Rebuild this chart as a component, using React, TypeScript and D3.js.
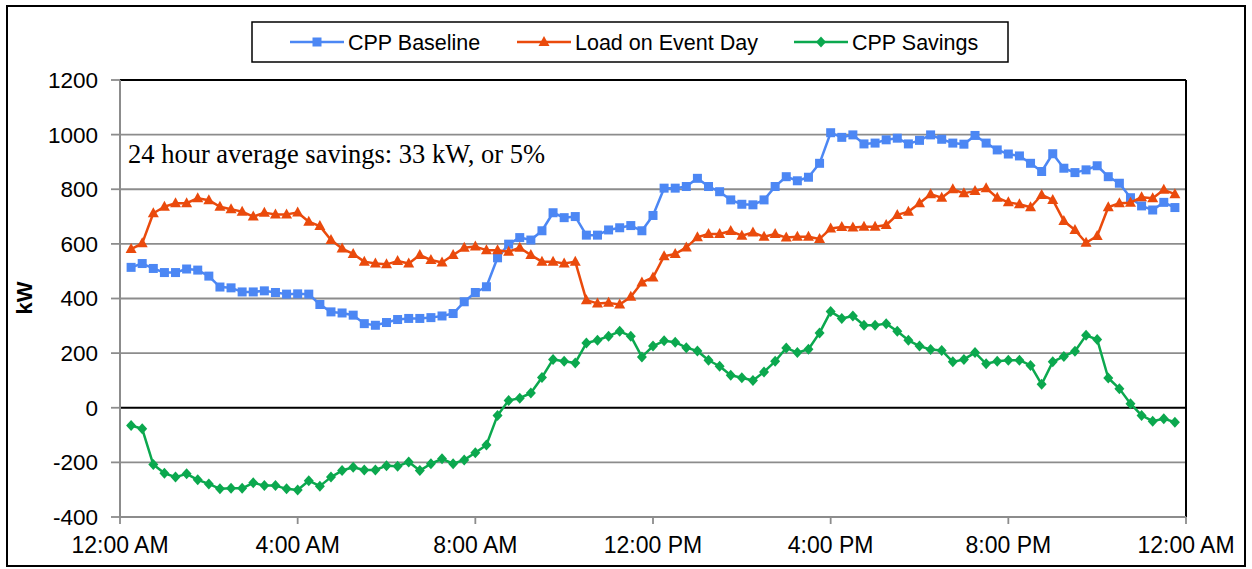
import React from "react";
import * as d3 from "d3";

const xTickLabels = ["12:00 AM", "4:00 AM", "8:00 AM", "12:00 PM", "4:00 PM", "8:00 PM", "12:00 AM"];
const yTicks = [-400, -200, 0, 200, 400, 600, 800, 1000, 1200];
const seriesNames = ["CPP Baseline", "Load on Event Day", "CPP Savings"];

// 15-minute intervals from 0:15 to 23:45
const baseline = [
  514, 528, 510, 495, 495, 508, 504, 482, 442, 439, 424, 424, 428, 422, 416, 417,
  416, 378, 351, 347, 339, 308, 302, 312, 323, 327, 327, 330, 336, 345, 388, 422,
  443, 549, 599, 623, 614, 648, 714, 696, 700, 632, 632, 651, 659, 667, 648, 704,
  804, 804, 810, 840, 810, 791, 761, 745, 743, 761, 810, 846, 831, 844, 895, 1007,
  990, 999, 966, 969, 981, 987, 966, 979, 999, 983, 969, 965, 997, 969, 944, 929,
  922, 895, 865, 930, 877, 861, 871, 886, 846, 822, 769, 739, 724, 752, 733,
];
const eventLoad = [
  581, 602, 712, 736, 749, 749, 767, 760, 736, 727, 718, 700, 714, 708, 708, 715,
  681, 665, 614, 583, 563, 535, 528, 525, 537, 528, 559, 541, 532, 559, 586, 590,
  577, 577, 571, 586, 559, 535, 535, 528, 535, 394, 382, 384, 378, 406, 459, 477,
  555, 563, 587, 624, 636, 636, 647, 630, 642, 626, 636, 623, 626, 626, 618, 656,
  662, 660, 663, 663, 669, 706, 718, 749, 782, 769, 800, 785, 794, 804, 769, 752,
  745, 734, 779, 761, 684, 651, 604, 629, 734, 749, 751, 771, 767, 798, 782,
];
const savings = [
  -65, -77, -208, -240, -254, -242, -264, -279, -297, -295, -295, -275, -285, -285, -297, -301,
  -267, -287, -254, -230, -218, -228, -228, -212, -214, -199, -230, -205, -187, -205, -191, -165,
  -136, -28, 27, 35, 54, 111, 177, 170, 164, 237, 247, 262, 280, 262, 186, 226,
  245, 240, 220, 208, 174, 152, 119, 110, 100, 131, 170, 219, 202, 214, 274, 352,
  327, 336, 302, 302, 308, 280, 247, 226, 213, 210, 168, 177, 202, 161, 170, 174,
  174, 155, 86, 168, 188, 207, 265, 250, 109, 70, 15, -28, -49, -40, -53,
];

const BLUE = "#4C87F4";
const RED = "#EA4A0C";
const GREEN = "#0BA84E";

const W = 1252;
const H = 569;
const left = 120;
const right = 1186;
const top = 80;
const bottom = 517;

function Marker({ kind, x, y, color }: { kind: string; x: number; y: number; color: string }) {
  if (kind === "square") {
    return <rect x={x - 4.5} y={y - 4.5} width={9} height={9} fill={color} />;
  }
  if (kind === "triangle") {
    const p = `${x},${y - 6} ${x + 5.5},${y + 4} ${x - 5.5},${y + 4}`;
    return <polygon points={p} fill={color} />;
  }
  const p = `${x},${y - 5.5} ${x + 5},${y} ${x},${y + 5.5} ${x - 5},${y}`;
  return <polygon points={p} fill={color} />;
}

export default function App() {
  const x = d3.scaleLinear().domain([0, 24]).range([left, right]);
  const y = d3.scaleLinear().domain([-400, 1200]).range([bottom, top]);
  const hours = baseline.map((_, i) => (i + 1) * 0.25);

  const series = [
    { name: seriesNames[0], data: baseline, color: BLUE, kind: "square" },
    { name: seriesNames[1], data: eventLoad, color: RED, kind: "triangle" },
    { name: seriesNames[2], data: savings, color: GREEN, kind: "diamond" },
  ];

  const line = (data: number[]) =>
    d3
      .line<number>()
      .x((_, i) => x(hours[i]))
      .y((d) => y(d))(data) as string;

  const legendItems = [
    { lx: 290, tx: 348 },
    { lx: 517, tx: 575 },
    { lx: 794, tx: 852 },
  ];

  const font = "'Liberation Sans', Arial, sans-serif";

  return (
    <svg
      width={W}
      height={H}
      style={{ position: "absolute", left: 0, top: 0, background: "#fff" }}
    >
      <rect x={0} y={0} width={W} height={H} fill="#fff" />
      {/* outer frame */}
      <rect x={7} y={6} width={1238} height={560} fill="none" stroke="#000" strokeWidth={2} />

      {/* gridlines */}
      {yTicks.map((t) => (
        <line
          key={t}
          x1={left}
          x2={right}
          y1={y(t)}
          y2={y(t)}
          stroke={t === 0 ? "#000" : "#8c8c8c"}
          strokeWidth={t === 0 ? 2 : 1.8}
        />
      ))}
      {/* plot border top & right */}
      <line x1={left} x2={right} y1={top} y2={top} stroke="#000" strokeWidth={2} />
      <line x1={right} x2={right} y1={top} y2={bottom} stroke="#000" strokeWidth={2} />
      {/* axes */}
      <line x1={left} x2={left} y1={top} y2={bottom} stroke="#8c8c8c" strokeWidth={2} />
      <line x1={left} x2={right} y1={bottom} y2={bottom} stroke="#8c8c8c" strokeWidth={2} />
      {yTicks.map((t) => (
        <line key={"yt" + t} x1={left - 9} x2={left} y1={y(t)} y2={y(t)} stroke="#8c8c8c" strokeWidth={1.8} />
      ))}
      {xTickLabels.map((_, i) => (
        <line key={"xt" + i} x1={x(i * 4)} x2={x(i * 4)} y1={bottom} y2={bottom + 7} stroke="#8c8c8c" strokeWidth={1.8} />
      ))}

      {/* tick labels */}
      {yTicks.map((t) => (
        <text
          key={"yl" + t}
          x={98}
          y={y(t)}
          dy="0.35em"
          textAnchor="end"
          fontFamily={font}
          fontSize={22.5}
          fill="#000"
        >
          {t}
        </text>
      ))}
      {xTickLabels.map((lab, i) => (
        <text
          key={"xl" + i}
          x={x(i * 4)}
          y={553}
          textAnchor="middle"
          fontFamily={font}
          fontSize={23}
          fill="#000"
        >
          {lab}
        </text>
      ))}
      <text
        transform={`translate(32,${298}) rotate(-90)`}
        textAnchor="middle"
        fontFamily={font}
        fontSize={22}
        fontWeight="bold"
        fill="#000"
      >
        kW
      </text>

      {/* annotation */}
      <text x={128} y={163} fontFamily="'Liberation Serif', 'Times New Roman', serif" fontSize={26.5} fill="#000">
        24 hour average savings: 33 kW, or 5%
      </text>

      {/* series */}
      {series.map((s) => (
        <g key={s.name}>
          <path d={line(s.data)} fill="none" stroke={s.color} strokeWidth={2.5} strokeLinejoin="round" />
          {s.data.map((v, i) => (
            <Marker key={i} kind={s.kind} x={x(hours[i])} y={y(v)} color={s.color} />
          ))}
        </g>
      ))}

      {/* legend */}
      <rect x={252} y={22} width={756} height={40} fill="#fff" stroke="#000" strokeWidth={1.5} />
      {series.map((s, i) => (
        <g key={"lg" + i}>
          <line
            x1={legendItems[i].lx}
            x2={legendItems[i].lx + 54}
            y1={42}
            y2={42}
            stroke={s.color}
            strokeWidth={2.5}
          />
          <Marker kind={s.kind} x={legendItems[i].lx + 27} y={42} color={s.color} />
          <text
            x={legendItems[i].tx}
            y={42}
            dy="0.35em"
            fontFamily={font}
            fontSize={21.5}
            fill="#000"
          >
            {s.name}
          </text>
        </g>
      ))}
    </svg>
  );
}
